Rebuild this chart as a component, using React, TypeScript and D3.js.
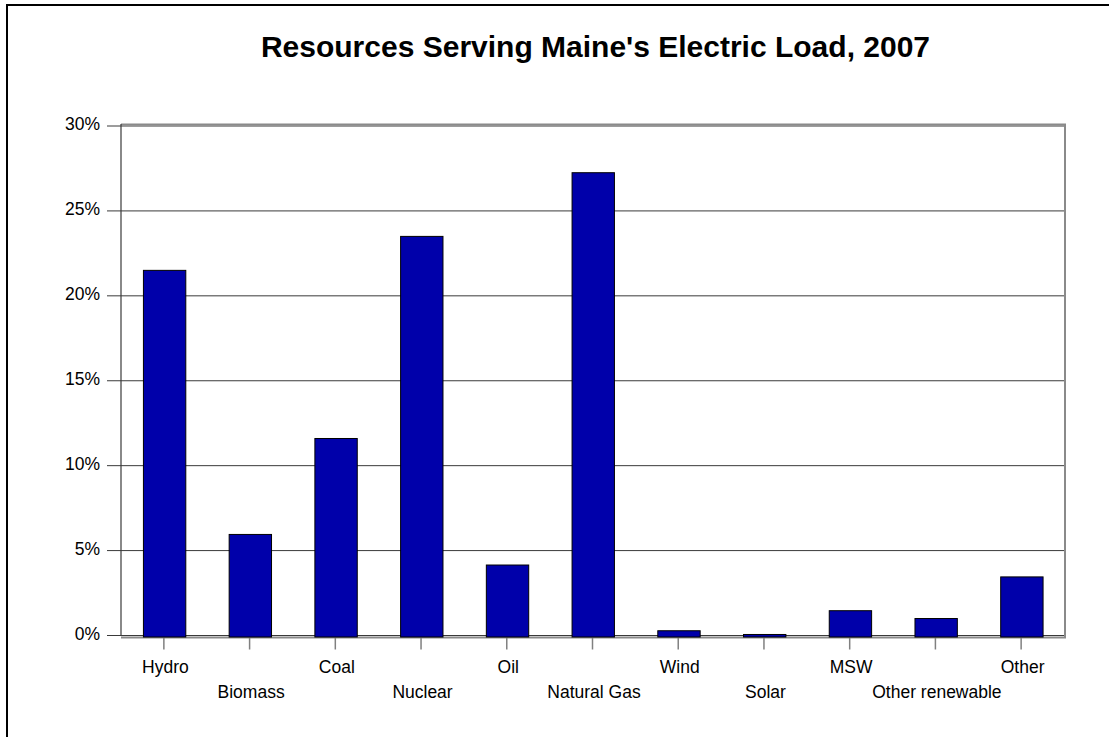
import * as d3 from 'd3';

const CATEGORIES = [
  'Hydro', 'Biomass', 'Coal', 'Nuclear', 'Oil', 'Natural Gas',
  'Wind', 'Solar', 'MSW', 'Other renewable', 'Other',
];
const SHARES = [21.5, 5.95, 11.6, 23.5, 4.15, 27.25, 0.28, 0.06, 1.46, 1.0, 3.45];
const Y_TICKS = [0, 5, 10, 15, 20, 25, 30];
const TITLE = "Resources Serving Maine's Electric Load, 2007";

const W = 1109;
const H = 737;
const FONT = '"Liberation Sans", Arial, sans-serif';
const BAR_FILL = '#0000aa';

export default function App() {
  const plot = { left: 121, right: 1064, top: 126, bottom: 635.5 };

  const x = d3.scaleBand<string>()
    .domain(CATEGORIES)
    .range([plot.left, plot.right])
    .paddingInner(0.5)
    .paddingOuter(0.25);

  const y = d3.scaleLinear().domain([0, 30]).range([plot.bottom, plot.top]);

  return (
    <svg
      width={W}
      height={H}
      style={{ position: 'absolute', top: 0, left: 0, display: 'block', background: 'white', fontFamily: FONT }}
    >
      {/* outer frame (only top/left visible) */}
      <path d={`M7,${H + 2} V5 H${W + 2}`} fill="none" stroke="#000" strokeWidth={2} />

      <text x={595.5} y={57} textAnchor="middle" fontSize={30} fontWeight={700} fill="#000">
        {TITLE}
      </text>

      {/* gridlines + y ticks */}
      {Y_TICKS.map(t => (
        <g key={t}>
          {t > 0 && (
            <line x1={plot.left} x2={plot.right} y1={y(t)} y2={y(t)} stroke="#3a3a3a" strokeWidth={1} />
          )}
          <line x1={107} x2={plot.left} y1={y(t)} y2={y(t)} stroke="#3a3a3a" strokeWidth={1} />
          <text x={100} y={y(t) + 4} textAnchor="end" fontSize={17.5} fill="#000">
            {d3.format('d')(t)}%
          </text>
        </g>
      ))}

      {/* plot frame: top & right grey */}
      <path
        d={`M${plot.left},${plot.top - 1.5} H${plot.right + 1} V${plot.bottom + 2}`}
        fill="none" stroke="#8a8a8a" strokeWidth={2}
      />
      {/* left axis */}
      <line x1={plot.left} x2={plot.left} y1={plot.top - 2} y2={plot.bottom} stroke="#3a3a3a" strokeWidth={1.2} />

      {/* baseline */}
      <line x1={plot.left} x2={plot.right + 2} y1={plot.bottom + 2} y2={plot.bottom + 2} stroke="#8a8a8a" strokeWidth={2} />
      <line x1={plot.left} x2={plot.right} y1={plot.bottom} y2={plot.bottom} stroke="#3a3a3a" strokeWidth={1} />

      {/* x ticks */}
      {CATEGORIES.map(c => {
        const cx = (x(c) ?? 0) + x.bandwidth() / 2;
        return (
          <line key={c} x1={cx} x2={cx} y1={plot.bottom + 2} y2={plot.bottom + 14} stroke="#808080" strokeWidth={1.5} />
        );
      })}

      {/* bars */}
      {CATEGORIES.map((c, i) => (
        <rect
          key={c}
          x={(x(c) ?? 0) + 1}
          y={y(SHARES[i])}
          width={x.bandwidth() - 0.5}
          height={y(0) - y(SHARES[i]) + 1.5}
          fill={BAR_FILL}
          stroke="#000"
          strokeWidth={1}
        />
      ))}

      {/* category labels, staggered */}
      {CATEGORIES.map((c, i) => (
        <text
          key={c}
          x={(x(c) ?? 0) + x.bandwidth() / 2 + 1.5}
          y={i % 2 === 0 ? 672.5 : 697.5}
          textAnchor="middle"
          fontSize={17.5}
          fill="#000"
        >
          {c}
        </text>
      ))}
    </svg>
  );
}
